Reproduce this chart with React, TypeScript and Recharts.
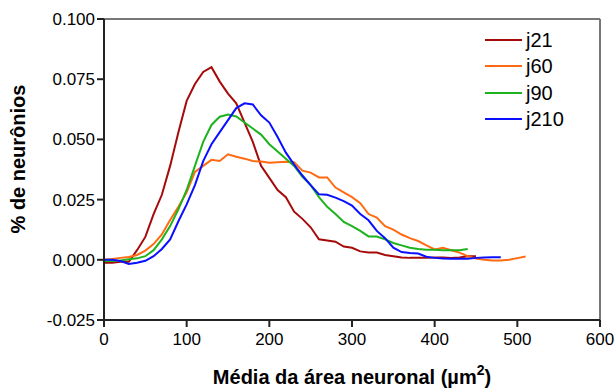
import React from 'react';
import { LineChart, Line, XAxis, YAxis, ReferenceLine, Legend } from 'recharts';

// neuronal area bins (µm²)
const areaX = [
  0, 10, 20, 30, 40, 50, 60, 70, 80, 90, 100, 110, 120, 130, 140, 150, 160, 170, 180, 190,
  200, 210, 220, 230, 240, 250, 260, 270, 280, 290, 300, 310, 320, 330, 340, 350, 360, 370,
  380, 390, 400, 410, 420, 430, 440, 450, 460, 470, 480, 490, 500, 510,
];

const j21 = [
  -0.0012, -0.0012, -0.0008, -0.0008, 0.004, 0.0095, 0.019, 0.027, 0.039, 0.053, 0.066, 0.073,
  0.078, 0.08, 0.074, 0.069, 0.065, 0.057, 0.049, 0.039, 0.034, 0.029, 0.026, 0.02, 0.017,
  0.0135, 0.0085, 0.008, 0.0075, 0.0055, 0.005, 0.0035, 0.003, 0.003, 0.002, 0.0015, 0.001,
  0.0008, 0.0008, 0.0008, 0.001, 0.001, 0.0008, 0.001, 0.0015, 0.0015,
];

const j60 = [
  0.0, 0.0003, 0.0008, 0.0012, 0.002, 0.0038, 0.0065, 0.0105, 0.0165, 0.022, 0.028, 0.0365,
  0.039, 0.0415, 0.041, 0.0438, 0.0428, 0.042, 0.041, 0.0408, 0.0403, 0.0405, 0.0407, 0.0405,
  0.037, 0.0362, 0.0342, 0.0342, 0.03, 0.028, 0.026, 0.0235, 0.019, 0.0175, 0.014, 0.0125,
  0.0105, 0.009, 0.0078, 0.006, 0.0043, 0.005, 0.004, 0.003, 0.0015, 0.0005, 0.0, -0.0003,
  -0.0003, 0.0, 0.0007, 0.0014,
];

const j90 = [
  -0.0005, -0.0005, -0.0003, 0.0002, 0.0006, 0.0015, 0.004, 0.0085, 0.014, 0.021, 0.029, 0.039,
  0.049, 0.056, 0.0594, 0.0603, 0.0595, 0.057, 0.0545, 0.052, 0.048, 0.045, 0.042, 0.039,
  0.0345, 0.031, 0.026, 0.022, 0.019, 0.0157, 0.014, 0.012, 0.0097, 0.0097, 0.0085, 0.007,
  0.006, 0.005, 0.0045, 0.0042, 0.0042, 0.004, 0.004, 0.004, 0.0045,
];

const j210 = [
  0.0, 0.0, -0.0005, -0.0017, -0.0012, -0.0004, 0.0015, 0.0045, 0.0085, 0.016, 0.023, 0.031,
  0.041, 0.048, 0.053, 0.058, 0.063, 0.065, 0.0645, 0.06, 0.057, 0.051, 0.0445, 0.0395, 0.035,
  0.031, 0.0272, 0.027, 0.0258, 0.0244, 0.0225, 0.019, 0.0164, 0.012, 0.009, 0.005, 0.0032,
  0.0028, 0.0026, 0.0013, 0.0008, 0.0005, 0.0004, 0.0004, 0.0004, 0.0008, 0.001, 0.0011, 0.0011,
];

const xTicks = [0, 100, 200, 300, 400, 500, 600];
const yTicks = [-0.025, 0, 0.025, 0.05, 0.075, 0.1];

const series = [
  { name: 'j21', values: j21, color: '#A50B0B' },
  { name: 'j60', values: j60, color: '#FF6A13' },
  { name: 'j90', values: j90, color: '#1DB31D' },
  { name: 'j210', values: j210, color: '#0A10FF' },
];

const toPoints = (values: number[]) => values.map((v, i) => ({ x: areaX[i], y: v }));

const FONT = '"Liberation Sans", Arial, sans-serif';

const renderXLabel = () => (
  <text x={352} y={384} textAnchor="middle" fontSize={20} fontWeight="bold" fill="#000" fontFamily={FONT}>
    Média da área neuronal (µm
    <tspan dy={-9} fontSize={14}>2</tspan>
    <tspan dy={9}>)</tspan>
  </text>
);

const renderYLabel = () => (
  <text
    x={25}
    y={159}
    transform="rotate(-90 25 159)"
    textAnchor="middle"
    fontSize={20}
    fontWeight="bold"
    fill="#000"
    fontFamily={FONT}
  >
    % de neurônios
  </text>
);

const LegendBox = () => (
  <div style={{ fontFamily: FONT, fontSize: 20, color: '#000' }}>
    {series.map((s) => (
      <div key={s.name} style={{ display: 'flex', alignItems: 'center', height: 26.3 }}>
        <svg width={37} height={4}>
          <line x1={0} y1={2} x2={37} y2={2} stroke={s.color} strokeWidth={2} />
        </svg>
        <span style={{ marginLeft: 4, lineHeight: '20px' }}>{s.name}</span>
      </div>
    ))}
  </div>
);

export default function App() {
  return (
    <div style={{ position: 'absolute', left: 0, top: 0, width: 616, height: 390, background: '#fff', fontFamily: FONT }}>
      <LineChart width={616} height={390} margin={{ top: 19, right: 16, bottom: 0, left: 0 }}>
        <XAxis
          type="number"
          dataKey="x"
          domain={[0, 600]}
          ticks={xTicks}
          allowDataOverflow
          height={70}
          tickSize={7}
          tickMargin={6}
          stroke="#222"
          strokeWidth={2}
          tick={{ fontSize: 17, fill: '#000', fontFamily: FONT }}
          label={renderXLabel}
        />
        <YAxis
          type="number"
          dataKey="y"
          domain={[-0.025, 0.1]}
          ticks={yTicks}
          allowDataOverflow
          width={104}
          tickSize={7}
          tickMargin={2}
          stroke="#222"
          strokeWidth={2}
          tickFormatter={(v: number) => v.toFixed(3)}
          tick={{ fontSize: 17, fill: '#000', fontFamily: FONT }}
          label={renderYLabel}
        />
        <ReferenceLine y={0.1} stroke="#777" strokeWidth={2} />
        <ReferenceLine x={600} stroke="#777" strokeWidth={2} />
        <Legend
          layout="vertical"
          align="center"
          verticalAlign="middle"
          content={() => <LegendBox />}
          wrapperStyle={{ top: 27, left: 485, width: 100 }}
        />
        {series.map((s) => (
          <Line
            key={s.name}
            data={toPoints(s.values)}
            dataKey="y"
            name={s.name}
            type="linear"
            stroke={s.color}
            strokeWidth={2}
            dot={false}
            activeDot={false}
            isAnimationActive={false}
          />
        ))}
      </LineChart>
    </div>
  );
}
